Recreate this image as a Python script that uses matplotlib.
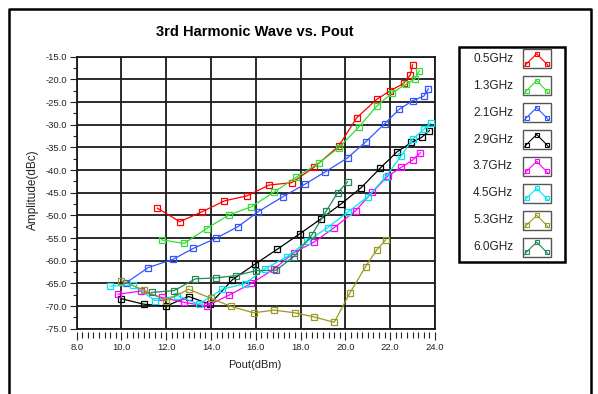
import matplotlib
matplotlib.use('Agg')
import matplotlib.pyplot as plt
from matplotlib.ticker import MultipleLocator, FormatStrFormatter
from matplotlib.patches import Rectangle

# 数据: 各频点的 Pout(dBm) 与三次谐波幅度(dBc)
freq_labels = ['0.5GHz', '1.3GHz', '2.1GHz', '2.9GHz', '3.7GHz', '4.5GHz', '5.3GHz', '6.0GHz']
line_colors = ['#ff0000', '#33dd33', '#3355ff', '#000000', '#ff00ff', '#00e5f0', '#9a9a20', '#228855']

pout_05 = [11.6, 12.6, 13.6, 14.6, 15.6, 16.6, 17.6, 18.6, 19.7, 20.5, 21.4, 22.0, 22.6, 22.9, 23.0]
amp_05 = [-48.4, -51.4, -49.2, -46.8, -45.7, -43.3, -42.8, -39.4, -34.7, -28.5, -24.4, -22.5, -20.9, -19.0, -16.8]

pout_13 = [11.8, 12.8, 13.8, 14.8, 15.8, 16.8, 17.8, 18.8, 19.7, 20.6, 21.4, 22.1, 22.7, 23.1, 23.3]
amp_13 = [-55.4, -56.2, -52.9, -49.9, -48.1, -44.9, -41.6, -38.5, -35.1, -30.5, -25.9, -22.9, -21.1, -19.9, -18.1]

pout_21 = [10.2, 11.2, 12.3, 13.2, 14.2, 15.2, 16.1, 17.2, 18.2, 19.1, 20.1, 20.9, 21.75, 22.4, 23.0, 23.5, 23.7]
amp_21 = [-64.9, -61.5, -59.7, -57.3, -55.1, -52.5, -49.2, -45.9, -43.1, -40.4, -37.3, -33.8, -29.8, -26.6, -24.7, -23.7, -22.1]

pout_29 = [10.0, 11.0, 12.0, 13.0, 13.95, 14.95, 15.95, 16.95, 17.95, 18.9, 19.8, 20.7, 21.55, 22.3, 22.95, 23.4, 23.75]
amp_29 = [-68.4, -69.6, -70.0, -67.9, -69.6, -64.2, -60.8, -57.5, -54.1, -50.8, -47.5, -43.9, -39.6, -36.0, -33.9, -32.8, -31.3]

pout_37 = [9.85, 10.85, 11.8, 12.8, 13.8, 14.8, 15.8, 16.8, 17.7, 18.6, 19.5, 20.45, 21.2, 21.9, 22.5, 23.0, 23.35]
amp_37 = [-67.4, -66.7, -68.1, -69.2, -70.0, -67.6, -65.0, -61.9, -58.2, -55.9, -52.7, -49.0, -44.9, -41.3, -39.4, -37.8, -36.2]

pout_45 = [9.5, 10.5, 11.5, 12.5, 13.45, 14.5, 15.5, 16.4, 17.4, 18.3, 19.2, 20.1, 21.0, 21.8, 22.5, 23.0, 23.5, 23.8]
amp_45 = [-65.6, -65.4, -68.8, -67.7, -69.6, -66.3, -65.1, -61.8, -59.1, -55.7, -52.7, -49.3, -45.9, -41.5, -36.8, -33.2, -31.0, -29.7]

pout_53 = [10.0, 11.0, 12.0, 13.0, 14.0, 14.9, 15.9, 16.8, 17.75, 18.6, 19.5, 20.2, 20.9, 21.4, 21.8]
amp_53 = [-64.4, -66.5, -68.8, -66.3, -68.3, -70.1, -71.5, -70.9, -71.5, -72.4, -73.6, -67.1, -61.3, -57.6, -55.4]

pout_60 = [11.35, 12.35, 13.3, 14.2, 15.1, 16.0, 16.9, 17.7, 18.5, 19.15, 19.65, 20.1]
amp_60 = [-67.0, -66.6, -64.0, -63.8, -63.3, -62.2, -62.1, -59.1, -54.3, -49.0, -45.0, -42.6]

pout_list = [pout_05, pout_13, pout_21, pout_29, pout_37, pout_45, pout_53, pout_60]
amp_list = [amp_05, amp_13, amp_21, amp_29, amp_37, amp_45, amp_53, amp_60]

W, H = 598, 394
plt.rcParams['font.family'] = ['Liberation Sans', 'DejaVu Sans']
text_color = '#222222'
grid_color = '#1a1a1a'

fig = plt.figure(figsize=(W / 100, H / 100), dpi=100)
fig.patch.set_facecolor('white')

# 主图区
ax = fig.add_axes([76.7 / W, (H - 328.7) / H, 358.3 / W, 272 / H])
for x, y, c in zip(pout_list, amp_list, line_colors):
    ax.plot(x, y, color=c, lw=0.9, marker='s', ms=4.4, mfc='none', mec=c, mew=0.9, zorder=3)

ax.set_xlim(8, 24)
ax.set_ylim(-75, -15)
ax.xaxis.set_major_locator(MultipleLocator(2))
ax.yaxis.set_major_locator(MultipleLocator(5))
ax.yaxis.set_minor_locator(MultipleLocator(2.5))
ax.yaxis.set_major_formatter(FormatStrFormatter('%.1f'))
ax.grid(True, which='major', color=grid_color, lw=1.3)
for s in ax.spines.values():
    s.set_color(grid_color)
    s.set_linewidth(1.3)
ax.tick_params(axis='x', which='both', length=0, labelbottom=False)
ax.tick_params(axis='y', which='major', length=5, width=0.8, labelsize=6.8, pad=2,
               colors=text_color)
ax.tick_params(axis='y', which='minor', length=3, width=0.8, colors=text_color)

# x 轴刻度稍微下移
sec = ax.secondary_xaxis(-3 / 272)
sec.spines['bottom'].set_visible(False)
sec.xaxis.set_major_locator(MultipleLocator(2))
sec.xaxis.set_minor_locator(MultipleLocator(0.25))
sec.xaxis.set_major_formatter(FormatStrFormatter('%.1f'))
sec.tick_params(which='major', length=6, width=0.8, labelsize=6.8, pad=2, colors=text_color)
sec.tick_params(which='minor', length=4, width=0.8, colors=text_color)

fig.text(255 / W, 1 - 32 / H, '3rd Harmonic Wave vs. Pout', ha='center', va='center',
         fontsize=10.5, fontweight='bold', color='black')
fig.text(255 / W, 1 - 365 / H, 'Pout(dBm)', ha='center', va='center', fontsize=8,
         color=text_color)
fig.text(33 / W, 1 - 190 / H, 'Amplitude(dBc)', ha='center', va='center', rotation=90,
         fontsize=8.5, color=text_color)

# 外框和图例 (像素坐标)
ov = fig.add_axes([0, 0, 1, 1], zorder=5)
ov.set_xlim(0, W)
ov.set_ylim(H, 0)
ov.axis('off')
ov.patch.set_visible(False)

ov.plot([8.5, 8.5, 591, 591], [H, 8.5, 8.5, H], color='black', lw=1.8)

ov.add_patch(Rectangle((459, 46.7), 106, 215, fill=False, ec='black', lw=1.8))
row_gap = 26.9
for i, (lab, c) in enumerate(zip(freq_labels, line_colors)):
    y0 = 49.3 + i * row_gap
    ov.text(473, y0 + 9.5, lab, ha='left', va='center', fontsize=8.5, color=text_color)
    ov.add_patch(Rectangle((522.7, y0), 28, 19, fill=False, ec='#555555', lw=1.0))
    ix = [524.5, 526.5, 536.7, 546.5, 548.5]
    iy = [y0 + 17, y0 + 14.5, y0 + 4.5, y0 + 14.5, y0 + 17]
    ov.plot(ix, iy, color=c, lw=0.8)
    ov.plot(ix[1:4], iy[1:4], ls='none', marker='s', ms=3.2, mfc='none', mec=c, mew=0.8)

fig.savefig('out.png', dpi=100)
